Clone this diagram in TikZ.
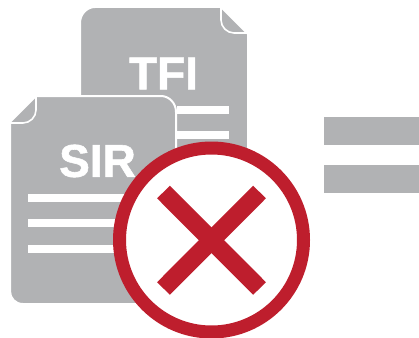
\documentclass[tikz,border=0pt]{standalone}
\usepackage{fontspec}
\setmainfont{Liberation Sans}
\newfontfamily\titlefont[BoldFeatures={FakeBold=1.2}]{Liberation Sans}
\definecolor{pagegrey}{HTML}{B1B2B4}
\definecolor{crossred}{HTML}{BE1E2D}
\begin{document}
\begin{tikzpicture}[
    x=1pt, y=-1pt,
    % Réglages des pages et du texte
    page/.style={fill=pagegrey, draw=white, line width=2pt, line join=round},
    fold/.style={draw=white, line width=1.6pt},
    textline/.style={fill=white},
    title/.style={text=white, font=\fontsize{46}{46}\titlefont\bfseries, inner sep=0pt},
    bar/.style={fill=pagegrey},
    ring/.style={draw=crossred, fill=white, line width=13pt},
    crossarm/.style={draw=crossred, line width=18pt}
]
\useasboundingbox (0,0) rectangle (419,337);
% Page du fond
\path[page] (95,7) -- (221,7) -- (248,34) -- (248,260) -- (80,260) -- (80,23) .. controls (80,14) and (87,7) .. cycle;
\draw[fold] (221,7) -- (221,20) .. controls (221,27) and (227,33) .. (234,33) -- (248,33);
\node[title] (tfi) at (163.5,73.5) {TFI};
\fill[textline] (177,106) rectangle (229,114);
\fill[textline] (177,131) rectangle (229,139);
% Page de devant
\path[page] (36,96) -- (161,96) .. controls (169,96) and (176,103) .. (176,112) -- (176,304) -- (23,304) .. controls (15,304) and (10,298) .. (10,291) -- (10,122) -- cycle;
\draw[fold] (36,96) -- (36,110) .. controls (36,117) and (30,123) .. (23,123) -- (10,123);
\node[title] (sir) at (97.5,161) {SIR};
\fill[textline] (28,194) rectangle (140,202);
\fill[textline] (28,219) rectangle (140,227);
\fill[textline] (28,245) rectangle (140,253);
% Signe interdit
\node[ring, circle, minimum size=184pt, inner sep=0pt] (stop) at (211.5,240) {};
\coordinate (a) at (163.5,192);
\coordinate (b) at (259.5,288.5);
\coordinate (c) at (259.5,192);
\coordinate (d) at (163.5,288.5);
\draw[crossarm] (a) -- (b);
\draw[crossarm] (c) -- (d);
% Signe egal
\fill[bar] (324,117) rectangle (419,145);
\fill[bar] (324,165) rectangle (419,193);
\end{tikzpicture}
\end{document}
